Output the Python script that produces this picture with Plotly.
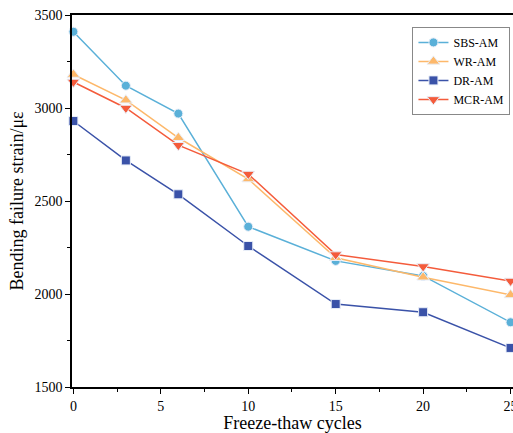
import plotly.graph_objects as go

cycles = [0, 3, 6, 10, 15, 20, 25]
sbs_am = [3410, 3120, 2970, 2362, 2178, 2097, 1848]
wr_am = [3180, 3042, 2840, 2618, 2195, 2090, 1995]
dr_am = [2930, 2718, 2536, 2258, 1946, 1902, 1710]
mcr_am = [3140, 3000, 2800, 2645, 2212, 2148, 2070]

series = [
    ("SBS-AM", sbs_am, "#5ab0d8", "circle", 9),
    ("WR-AM", wr_am, "#fdb86a", "triangle-up", 11),
    ("DR-AM", dr_am, "#3a52a8", "square", 9),
    ("MCR-AM", mcr_am, "#f45b3b", "triangle-down", 11),
]

fig = go.Figure()
for name, vals, color, sym, sz in series:
    fig.add_trace(go.Scatter(
        x=cycles, y=vals, name=name, mode="lines+markers",
        line=dict(color=color, width=1.5),
        marker=dict(symbol=sym, size=sz, color=color, line=dict(color="#e8eef8", width=1)),
        cliponaxis=False,
    ))

font_family = "Liberation Serif"
fig.update_layout(
    width=513, height=433,
    margin=dict(l=72, r=0, t=15, b=46, autoexpand=False),
    plot_bgcolor="white", paper_bgcolor="white",
    font=dict(family=font_family, size=14, color="black"),
    showlegend=True,
    legend=dict(
        x=0.772, y=0.968, xanchor="left", yanchor="top",
        bgcolor="white", bordercolor="#888888", borderwidth=1,
        font=dict(family=font_family, size=12),
        tracegroupgap=0, itemwidth=30,
    ),
    xaxis=dict(
        range=[-0.08, 25.14], showgrid=False, zeroline=False, automargin=False,
        showline=True, linecolor="black", linewidth=1.5, mirror=True,
        ticks="outside", ticklen=5, tickwidth=1.2, tickcolor="black",
        tickvals=[0, 5, 10, 15, 20, 25], ticklabeloverflow="allow",
        minor=dict(ticks="outside", ticklen=3, dtick=2.5, tick0=0, tickcolor="black", showgrid=False),
        tickfont=dict(family=font_family, size=14),
        title=dict(text="Freeze-thaw cycles", font=dict(family=font_family, size=18), standoff=4),
    ),
    yaxis=dict(
        range=[1500, 3500], showgrid=False, zeroline=False, automargin=False,
        showline=True, linecolor="black", linewidth=1.5, mirror=False,
        ticks="outside", ticklen=5, tickwidth=1.2, tickcolor="black",
        tickvals=[1500, 2000, 2500, 3000, 3500],
        minor=dict(ticks="outside", ticklen=3, dtick=250, tick0=1500, tickcolor="black", showgrid=False),
        tickfont=dict(family=font_family, size=14),
        title=dict(text="Bending failure strain/με", font=dict(family=font_family, size=18), standoff=6),
    ),
)

fig.write_html("out.html")
